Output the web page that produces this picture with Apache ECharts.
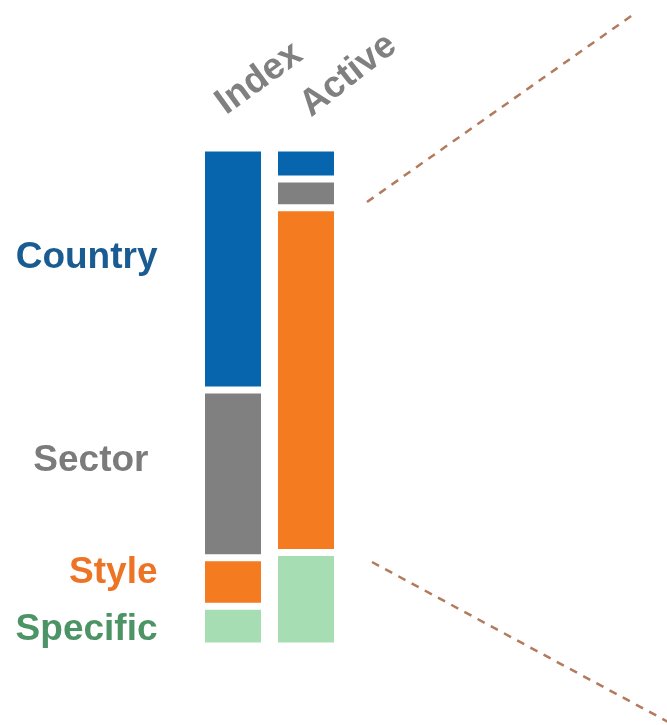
<!DOCTYPE html>
<html>
<head>
<meta charset="utf-8">
<script src="https://cdn.jsdelivr.net/npm/echarts@6/dist/echarts.min.js"></script>
<style>
  html, body { margin: 0; padding: 0; background: #ffffff; }
  #chart { width: 667px; height: 725px; }
</style>
</head>
<body>
<div id="chart"></div>
<script>
// Risk decomposition: share of each factor group (%) in the index vs. the active portfolio
const categories = ['Index', 'Active'];
const factorNames = ['Country', 'Sector', 'Style', 'Specific'];
const countryShare = [48.6, 6.2];
const sectorShare = [33.7, 5.8];
const styleShare = [9.7, 69.2];
const specificShare = [8.0, 18.8];

// Styling
const barColors = { Country: '#0765AE', Sector: '#808080', Style: '#F47B20', Specific: '#A6DDB3' };
const textColors = { Country: '#1A5C92', Sector: '#7B7B7B', Style: '#EC7424', Specific: '#4C9466' };
const rowLabelOffset = { Country: [0, -11], Sector: [-9, -13], Style: [0, -9], Specific: [0, 4] };
const headerShift = { Index: [-2, -26], Active: [10, -24] };
const FONT = '"Liberation Sans", Arial, sans-serif';

const valuesByFactor = {
  Country: countryShare,
  Sector: sectorShare,
  Style: styleShare,
  Specific: specificShare
};

// stack from the bottom up: Specific, Style, Sector, Country
const stackOrder = factorNames.slice().reverse();

const series = stackOrder.map(name => ({
  name: name,
  type: 'bar',
  stack: 'total',
  barWidth: 63,
  itemStyle: { color: barColors[name], borderColor: '#ffffff', borderWidth: 3.5 },
  label: {
    show: false,
    position: 'left',
    distance: 44,
    offset: rowLabelOffset[name],
    formatter: '{a}',
    color: textColors[name],
    fontFamily: FONT,
    fontWeight: 'bold',
    fontSize: 37
  },
  emphasis: { disabled: true },
  // only the Index column carries the factor name on its left
  data: valuesByFactor[name].map((v, i) => i === 0 ? { value: v, label: { show: true } } : v)
}));

const chart = echarts.init(document.getElementById('chart'), null, { renderer: 'canvas' });

chart.setOption({
  backgroundColor: '#ffffff',
  animation: false,
  grid: { left: 196.5, width: 146, top: 148, bottom: 79 },
  xAxis: { type: 'category', data: categories, show: false },
  yAxis: { type: 'value', min: 0, max: 100, show: false },
  series: series,
  graphic: [
    {
      type: 'line', id: 'linkTop', silent: true,
      shape: { x1: 367, y1: 202, x2: 634, y2: 14 },
      style: { stroke: '#B47A5C', lineWidth: 2.5, lineDash: [8, 7] }
    },
    {
      type: 'line', id: 'linkBottom', silent: true,
      shape: { x1: 372, y1: 562, x2: 672, y2: 724 },
      style: { stroke: '#B47A5C', lineWidth: 2.5, lineDash: [8, 7] }
    }
  ]
});

// Column headers, slanted above each bar
const headerY = chart.convertToPixel({ yAxisIndex: 0 }, 100);
chart.setOption({
  graphic: categories.map(cat => {
    const x = chart.convertToPixel({ xAxisIndex: 0 }, cat);
    return {
      type: 'text', id: 'head-' + cat, silent: true,
      x: x + headerShift[cat][0],
      y: headerY + headerShift[cat][1],
      rotation: (cat === 'Active' ? 38 : 36) * Math.PI / 180,
      style: {
        text: cat,
        fill: '#808080',
        font: 'bold 37px ' + FONT,
        align: 'left',
        verticalAlign: 'bottom'
      }
    };
  })
});
</script>
</body>
</html>
